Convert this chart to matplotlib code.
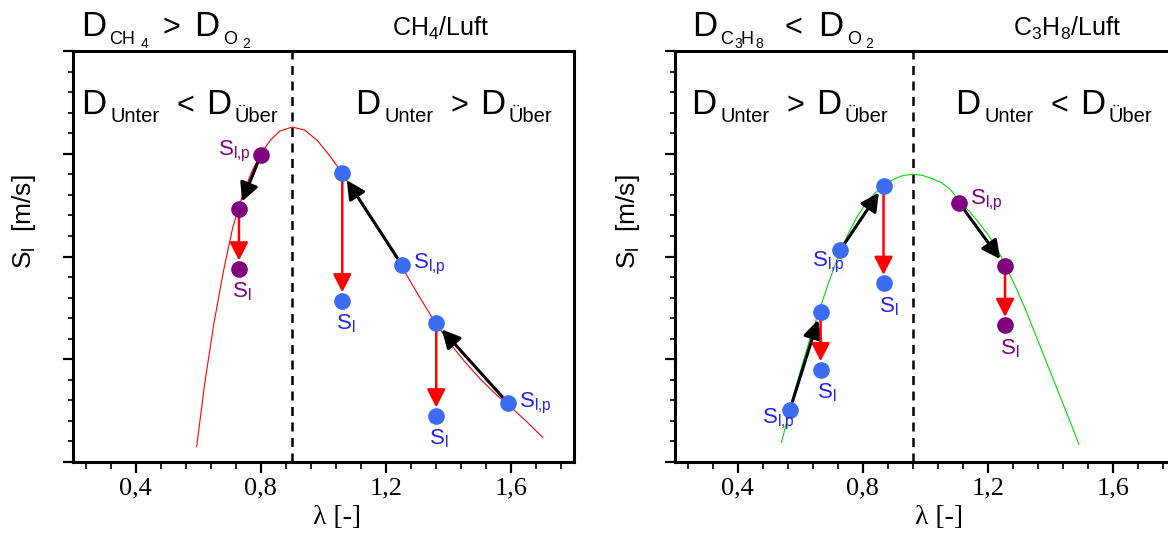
import matplotlib
matplotlib.use("Agg")
import matplotlib.pyplot as plt
from matplotlib.ticker import MultipleLocator, FixedLocator, FixedFormatter

plt.rcParams['font.family'] = ['Liberation Sans', 'DejaVu Sans']
plt.rcParams['mathtext.fontset'] = 'custom'
plt.rcParams['mathtext.rm'] = 'Liberation Sans'
plt.rcParams['mathtext.it'] = 'Liberation Sans:italic'
plt.rcParams['mathtext.bf'] = 'Liberation Sans:bold'

# ---- burning-velocity curves S_l(lambda) ----
ch4_curve_lam = [0.595, 0.62, 0.65, 0.68, 0.71, 0.74, 0.77, 0.80, 0.83, 0.86, 0.90,
                 0.94, 0.98, 1.02, 1.06, 1.10, 1.15, 1.20, 1.25, 1.30, 1.35, 1.40,
                 1.45, 1.50, 1.55, 1.60, 1.65, 1.70]
ch4_curve_s = [0.15, 0.75, 1.35, 1.85, 2.28, 2.58, 2.82, 3.00, 3.13, 3.22, 3.26,
               3.23, 3.13, 2.98, 2.81, 2.62, 2.38, 2.14, 1.90, 1.64, 1.39, 1.17,
               0.98, 0.81, 0.66, 0.53, 0.39, 0.24]

c3h8_curve_lam = [0.54, 0.57, 0.60, 0.63, 0.66, 0.69, 0.72, 0.75, 0.78, 0.81, 0.84,
                  0.87, 0.90, 0.93, 0.96, 0.99, 1.02, 1.05, 1.08, 1.11, 1.14, 1.17,
                  1.20, 1.23, 1.26, 1.29, 1.32, 1.35, 1.38, 1.41, 1.44, 1.47, 1.49]
c3h8_curve_s = [0.19, 0.55, 0.88, 1.19, 1.47, 1.74, 1.99, 2.20, 2.38, 2.52, 2.62,
                2.70, 2.755, 2.79, 2.80, 2.79, 2.76, 2.72, 2.65, 2.53, 2.44, 2.33,
                2.21, 2.07, 1.88, 1.69, 1.48, 1.25, 1.02, 0.79, 0.56, 0.33, 0.17]

# ---- stretched flames: S_l,p -> unstretched point -> S_l ----
ch4_lam_p = [0.80, 1.25, 1.59]
ch4_s_p = [2.99, 1.92, 0.57]
ch4_lam = [0.73, 1.06, 1.36]
ch4_s_mid = [2.46, 2.81, 1.35]
ch4_s_l = [1.88, 1.57, 0.45]
ch4_kind = ['purple', 'blue', 'blue']

c3h8_lam_p = [0.567, 0.727, 1.108]
c3h8_s_p = [0.51, 2.06, 2.52]
c3h8_lam = [0.665, 0.866, 1.254]
c3h8_s_mid = [1.46, 2.69, 1.91]
c3h8_s_l = [0.90, 1.74, 1.33]
c3h8_kind = ['blue', 'blue', 'purple']

ch4_stoich = 0.90
c3h8_stoich = 0.96

x_major = [0.4, 0.8, 1.2, 1.6]
x_major_labels = ['0,4', '0,8', '1,2', '1,6']

W, H = 1168, 533
fig = plt.figure(figsize=(W / 100, H / 100), dpi=100)

DOT = {'purple': '#800080', 'blue': '#3b6cf2'}
TXT = {'purple': '#800080', 'blue': '#2424ee'}


def fpos(x, y):
    return x / W, 1 - y / H


def make_axes(x0):
    ax = fig.add_axes([x0 / W, 1 - 462 / H, 501 / W, 411 / H])
    ax.set_xlim(0.2, 1.8)
    ax.set_ylim(0, 4)
    for s in ax.spines.values():
        s.set_linewidth(2.2)
    ax.xaxis.set_major_locator(FixedLocator(x_major))
    ax.xaxis.set_major_formatter(FixedFormatter(x_major_labels))
    ax.xaxis.set_minor_locator(MultipleLocator(0.08))
    ax.yaxis.set_major_locator(MultipleLocator(1))
    ax.yaxis.set_minor_locator(MultipleLocator(0.2))
    ax.tick_params(axis='x', which='major', direction='out', length=8, width=1.6,
                   pad=3, labelsize=19, top=False)
    ax.tick_params(axis='x', which='minor', direction='out', length=5, width=1.2, top=False)
    ax.tick_params(axis='y', which='major', direction='out', length=7, width=1.6,
                   labelleft=False, right=False)
    ax.tick_params(axis='y', which='minor', direction='out', length=3.5, width=1.2, right=False)
    for lab in ax.get_xticklabels():
        lab.set_fontfamily('Liberation Serif')
    return ax


def draw_panel(ax, curve_lam, curve_s, curve_color, stoich,
               lam_p, s_p, lam, s_mid, s_l, kinds, label_offsets):
    ax.plot(curve_lam, curve_s, color=curve_color, lw=0.8, zorder=2)
    ax.axvline(stoich, color='black', lw=1.8, dashes=(3.6, 2.6), zorder=1)
    for i in range(len(lam)):
        c = kinds[i]
        ax.annotate('', xy=(lam[i], s_mid[i]), xytext=(lam_p[i], s_p[i]),
                    arrowprops=dict(arrowstyle='-|>,head_length=0.55,head_width=0.28',
                                    color='black', lw=2.2, mutation_scale=20,
                                    shrinkA=6, shrinkB=6), zorder=3)
        ax.annotate('', xy=(lam[i], s_l[i]), xytext=(lam[i], s_mid[i]),
                    arrowprops=dict(arrowstyle='-|>,head_length=0.55,head_width=0.28',
                                    color='#ff0000', lw=1.8, mutation_scale=20,
                                    shrinkA=6, shrinkB=6), zorder=3)
        ax.plot([lam_p[i], lam[i], lam[i]], [s_p[i], s_mid[i], s_l[i]], 'o',
                color=DOT[c], ms=12, mec='none', zorder=4)
        (pdx, pdy, pha), (ldx, ldy) = label_offsets[i]
        ax.annotate(r'$\mathrm{S}_{\mathrm{l{,}p}}$', (lam_p[i], s_p[i]),
                    xytext=(pdx, pdy), textcoords='offset pixels', ha=pha, va='center',
                    color=TXT[c], fontsize=16, zorder=5)
        ax.annotate(r'$\mathrm{S}_{\mathrm{l}}$', (lam[i], s_l[i]),
                    xytext=(ldx, ldy), textcoords='offset pixels', ha='center', va='top',
                    color=TXT[c], fontsize=16, zorder=5)


ax1 = make_axes(73)
draw_panel(ax1, ch4_curve_lam, ch4_curve_s, '#ff0000', ch4_stoich,
           ch4_lam_p, ch4_s_p, ch4_lam, ch4_s_mid, ch4_s_l, ch4_kind,
           [((-10, 3, 'right'), (3, -12)),
            ((11, 0, 'left'), (3, -12)),
            ((11, 0, 'left'), (3, -12))])

ax2 = make_axes(675)
draw_panel(ax2, c3h8_curve_lam, c3h8_curve_s, '#00dd00', c3h8_stoich,
           c3h8_lam_p, c3h8_s_p, c3h8_lam, c3h8_s_mid, c3h8_s_l, c3h8_kind,
           [((5, -10, 'right'), (6, -12)),
            ((5, -12, 'right'), (5, -12)),
            ((11, 3, 'left'), (5, -12))])

for cx in (337, 939):
    fig.text(*fpos(cx, 517), 'λ [-]', ha='center', va='center', fontsize=20,
             family='Liberation Serif')

for x in (24, 628):
    fig.text(*fpos(x, 222), r'$\mathrm{S}_{\mathrm{l}}$  [m/s]', rotation=90,
             ha='center', va='center', fontsize=19)


def pieces(items):
    for x, y, s, size in items:
        fig.text(*fpos(x, y), s, ha='left', va='baseline', fontsize=size)


# headings above the panels
pieces([(81, 36, 'D', 25), (109, 44, 'CH', 13), (141, 48, '4', 10),
        (162, 36, '>', 22), (194, 36, 'D', 25), (223, 44, 'O', 13), (242, 48, '2', 10)])
pieces([(692, 36, 'D', 25), (720, 44, 'C', 13), (734, 48, '3', 10), (741, 44, 'H', 13),
        (755, 48, '8', 10), (785, 36, '<', 22), (818, 36, 'D', 25), (847, 44, 'O', 13),
        (865, 48, '2', 10)])
fig.text(*fpos(441, 36), r'CH$_4$/Luft', ha='center', va='baseline', fontsize=18)
fig.text(*fpos(1067, 36), r'C$_3$H$_8$/Luft', ha='center', va='baseline', fontsize=18)


def diffusion(x0, rel):
    pieces([(x0, 114, 'D', 25), (x0 + 29, 122, 'Unter', 14.5),
            (x0 + 96, 114, rel, 22), (x0 + 125, 114, 'D', 25),
            (x0 + 154, 122, 'Über', 14.5)])


diffusion(81, '<')
diffusion(355, '>')
diffusion(691, '>')
diffusion(955, '<')

fig.savefig('out.png', dpi=100)
